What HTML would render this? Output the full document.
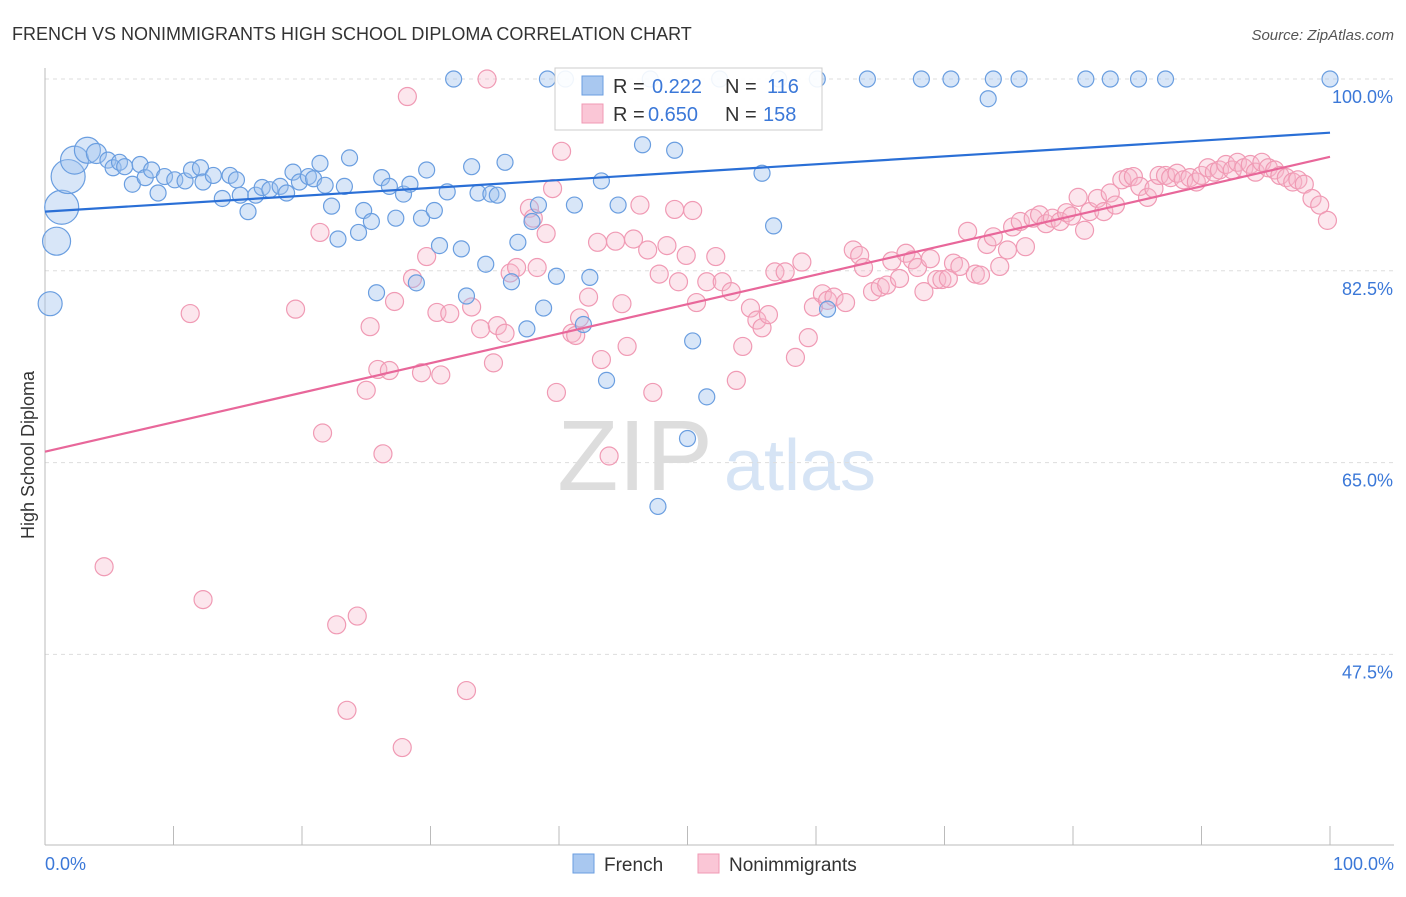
<!DOCTYPE html>
<html><head><meta charset="utf-8"><style>
body{margin:0;background:#fff;font-family:"Liberation Sans",sans-serif;}
svg text{font-family:"Liberation Sans",sans-serif;}
</style></head><body>
<svg id="c" width="1406" height="892" xmlns="http://www.w3.org/2000/svg">
<text x="12" y="40" font-size="18" fill="#333">FRENCH VS NONIMMIGRANTS HIGH SCHOOL DIPLOMA CORRELATION CHART</text>
<text x="1394" y="40" font-size="15" fill="#555" font-style="italic" text-anchor="end">Source: ZipAtlas.com</text>
<text x="635" y="490" font-size="100" fill="#ddd" font-family="Liberation Serif" text-anchor="middle">ZIP</text>
<text x="800" y="490" font-size="72" fill="#d6e4f5" text-anchor="middle">atlas</text>
<text transform="translate(34,455) rotate(-90)" font-size="18" fill="#333" text-anchor="middle">High School Diploma</text>
<g id="grid"></g><g id="pts"></g><g id="trend"></g>
<g>
<rect x="555" y="68" width="267" height="62" fill="#fff" fill-opacity="0.9" stroke="#ccc"/>
<rect x="582" y="76" width="21" height="19" fill="#a9c8f0" stroke="#6a9ee0"/>
<rect x="582" y="104" width="21" height="19" fill="#fac6d6" stroke="#f09ab4"/>
<text x="613" y="93" font-size="20" fill="#333">R = </text><text x="652" y="93" font-size="20" fill="#3b78d8">0.222</text>
<text x="725" y="93" font-size="20" fill="#333">N = </text><text x="767" y="93" font-size="20" fill="#3b78d8">116</text>
<text x="613" y="121" font-size="20" fill="#333">R = </text><text x="648" y="121" font-size="20" fill="#3b78d8">0.650</text>
<text x="725" y="121" font-size="20" fill="#333">N = </text><text x="763" y="121" font-size="20" fill="#3b78d8">158</text>
</g>
<g>
<rect x="573" y="854" width="21" height="19" fill="#a9c8f0" stroke="#6a9ee0"/>
<text x="604" y="871" font-size="19" fill="#333">French</text>
<rect x="698" y="854" width="21" height="19" fill="#fac6d6" stroke="#f09ab4"/>
<text x="729" y="871" font-size="19" fill="#333">Nonimmigrants</text>
</g>
</svg>
<script>
const yTicks=[100,82.5,65,47.5];
const yTickLabels=["100.0%","82.5%","65.0%","47.5%"];
const xTickCount=10;
const frenchX=[0.4,0.9,1.3,1.8,2.3,3.3,4.0,4.9,5.3,5.8,6.2,6.8,7.4,7.8,8.3,8.8,9.3,10.1,10.9,11.4,12.1,12.3,13.1,13.8,14.4,14.9,15.2,15.8,16.4,16.9,17.5,18.3,18.8,19.3,19.8,20.5,20.9,21.4,21.8,22.3,22.8,23.3,23.7,24.4,24.8,25.4,25.8,26.2,26.8,27.3,27.9,28.4,28.9,29.3,29.7,30.3,30.7,31.3,31.8,32.4,32.8,33.2,33.7,34.3,34.7,35.2,35.8,36.3,36.8,37.5,37.9,38.4,38.8,39.1,39.8,40.5,41.2,41.9,42.4,43.3,43.7,44.6,46.5,47.1,47.7,49.0,50.0,50.4,51.5,52.5,55.8,56.7,57.1,60.1,60.9,64.0,68.2,70.5,73.4,73.8,75.8,81.0,82.9,85.1,87.2,100];
const frenchY=[79.5,85.2,88.3,91.1,92.6,93.5,93.2,92.6,91.9,92.4,92.0,90.4,92.2,91.0,91.7,89.6,91.1,90.8,90.7,91.7,91.9,90.6,91.2,89.1,91.2,90.8,89.4,87.9,89.4,90.1,89.9,90.2,89.6,91.5,90.6,91.1,90.9,92.3,90.3,88.4,85.4,90.2,92.8,86.0,88.0,87.0,80.5,91.0,90.2,87.3,89.5,90.4,81.4,87.3,91.7,88.0,84.8,89.7,100,84.5,80.2,92.0,89.6,83.1,89.5,89.4,92.4,81.5,85.1,77.2,87.0,88.5,79.1,100,82.0,100,88.5,77.6,81.9,90.7,72.5,88.5,94.0,100,61.0,93.5,67.2,76.1,71.0,100,91.4,86.6,100,100,79.0,100,100,100,98.2,100,100,100,100,100,100,100];
const frenchR=[12,14,17,17,14,13,10];
const nonX=[4.6,11.3,12.3,19.5,21.4,21.6,22.7,23.5,24.3,25.0,25.3,25.9,26.3,26.8,27.2,27.8,28.2,28.6,29.3,29.7,30.5,30.8,31.5,32.8,33.2,33.9,34.4,34.9,35.2,35.8,36.2,36.7,37.7,38.0,38.3,39.0,39.5,39.8,40.2,41.0,41.3,41.6,42.3,43.0,43.3,43.9,44.4,44.9,45.3,45.8,46.3,46.9,47.3,47.8,48.4,49.0,49.3,49.9,50.4,50.7,51.5,52.2,52.7,53.4,53.8,54.3,54.9,55.4,55.8,56.3,56.8,57.6,58.4,58.9,59.4,59.8,60.5,60.9,61.4,62.3,62.9,63.4,63.7,64.4,65.0,65.5,65.9,66.5,67.0,67.5,67.9,68.4,68.9,69.4,69.8,70.3,70.7,71.2,71.8,72.4,72.8,73.3,73.8,74.3,74.9,75.3,75.9,76.3,76.9,77.4,77.9,78.4,79.0,79.5,79.9,80.4,80.9,81.3,81.9,82.4,82.9,83.3,83.8,84.3,84.7,85.2,85.8,86.3,86.7,87.2,87.6,88.1,88.6,89.1,89.6,90.0,90.5,91.0,91.4,91.9,92.4,92.8,93.3,93.8,94.2,94.7,95.2,95.7,96.1,96.6,97.1,97.5,98.0,98.6,99.2,99.8];
const nonY=[55.5,78.6,52.5,79.0,86.0,67.7,50.2,42.4,51.0,71.6,77.4,73.5,65.8,73.4,79.7,39.0,98.4,81.8,73.2,83.8,78.7,73.0,78.6,44.2,79.2,77.2,100,74.1,77.5,76.8,82.3,82.8,88.2,87.3,82.8,85.9,90.0,71.4,93.4,76.8,76.6,78.2,80.1,85.1,74.4,65.6,85.2,79.5,75.6,85.4,88.5,84.4,71.4,82.2,84.8,88.1,81.5,83.9,88.0,79.6,81.5,83.8,81.5,80.6,72.5,75.6,79.1,78.0,77.3,78.5,82.4,82.4,74.6,83.3,76.4,79.2,80.4,79.8,80.1,79.6,84.4,83.9,82.8,80.6,81.0,81.2,83.4,81.8,84.1,83.5,82.8,80.6,83.6,81.7,81.7,81.8,83.2,82.9,86.1,82.2,82.1,84.9,85.6,82.9,84.4,86.5,87.0,84.7,87.3,87.6,86.8,87.3,87.0,87.8,87.5,89.2,86.2,87.9,89.1,87.9,89.6,88.5,90.8,91.0,91.1,90.2,89.2,90.0,91.2,91.2,91.0,91.4,90.8,91.0,90.6,91.2,91.9,91.5,91.7,92.2,91.7,92.4,91.9,92.2,91.5,92.4,91.9,91.7,91.2,91.0,90.6,90.8,90.4,89.1,88.5,87.1];
const frenchTrend=[[0,87.9],[100,95.1]];
const nonTrend=[[0,66.0],[100,92.9]];

const NS="http://www.w3.org/2000/svg";
const X=v=>45+v*12.85;
const Y=v=>79+(100-v)*10.96;
function mk(t,a,p){const e=document.createElementNS(NS,t);for(const k in a)e.setAttribute(k,a[k]);p.appendChild(e);return e;}
const grid=document.getElementById('grid');
yTicks.forEach((t,i)=>{
  const l=mk('line',{x1:45,x2:1394,y1:Y(t),y2:Y(t),stroke:'#ddd','stroke-dasharray':'4,4'},grid);
  
  
  const tx=mk('text',{x:1393,y:Y(t)+24,'font-size':18,fill:'#3b78d8','text-anchor':'end'},grid);
  tx.textContent=yTickLabels[i];
  
  
});
const ax=mk('line',{x1:45,x2:1394,y1:845,y2:845,stroke:'#bbb'},grid);


const ay=mk('line',{x1:45,x2:45,y1:68,y2:845,stroke:'#bbb'},grid);


for(let i=0;i<=xTickCount;i++){
  const t=mk('line',{x1:X(i*10),x2:X(i*10),y1:826,y2:845,stroke:'#bbb'},grid);
  
  
}
const xl0=mk('text',{x:45,y:870,'font-size':18,fill:'#3b78d8'},grid);xl0.textContent='0.0%';


const xl1=mk('text',{x:1394,y:870,'font-size':18,fill:'#3b78d8','text-anchor':'end'},grid);xl1.textContent='100.0%';


const pts=document.getElementById('pts');
nonX.forEach((x,i)=>{
  const c=mk('circle',{cx:X(x),cy:Y(nonY[i]),r:9,fill:'#f7b6cb','fill-opacity':0.35,stroke:'#f09ab4','stroke-width':1.2},pts);
  
  
});
frenchX.forEach((x,i)=>{
  const c=mk('circle',{cx:X(x),cy:Y(frenchY[i]),r:frenchR[i]||8,fill:'#9ec0ee','fill-opacity':0.4,stroke:'#6a9ee0','stroke-width':1.2},pts);
  
  
});
const tr=document.getElementById('trend');
const l1=mk('line',{x1:X(frenchTrend[0][0]),y1:Y(frenchTrend[0][1]),x2:X(frenchTrend[1][0]),y2:Y(frenchTrend[1][1]),stroke:'#2a6fd6','stroke-width':2.2},tr);


const l2=mk('line',{x1:X(nonTrend[0][0]),y1:Y(nonTrend[0][1]),x2:X(nonTrend[1][0]),y2:Y(nonTrend[1][1]),stroke:'#e8679a','stroke-width':2.2},tr);


</script>
</body></html>
